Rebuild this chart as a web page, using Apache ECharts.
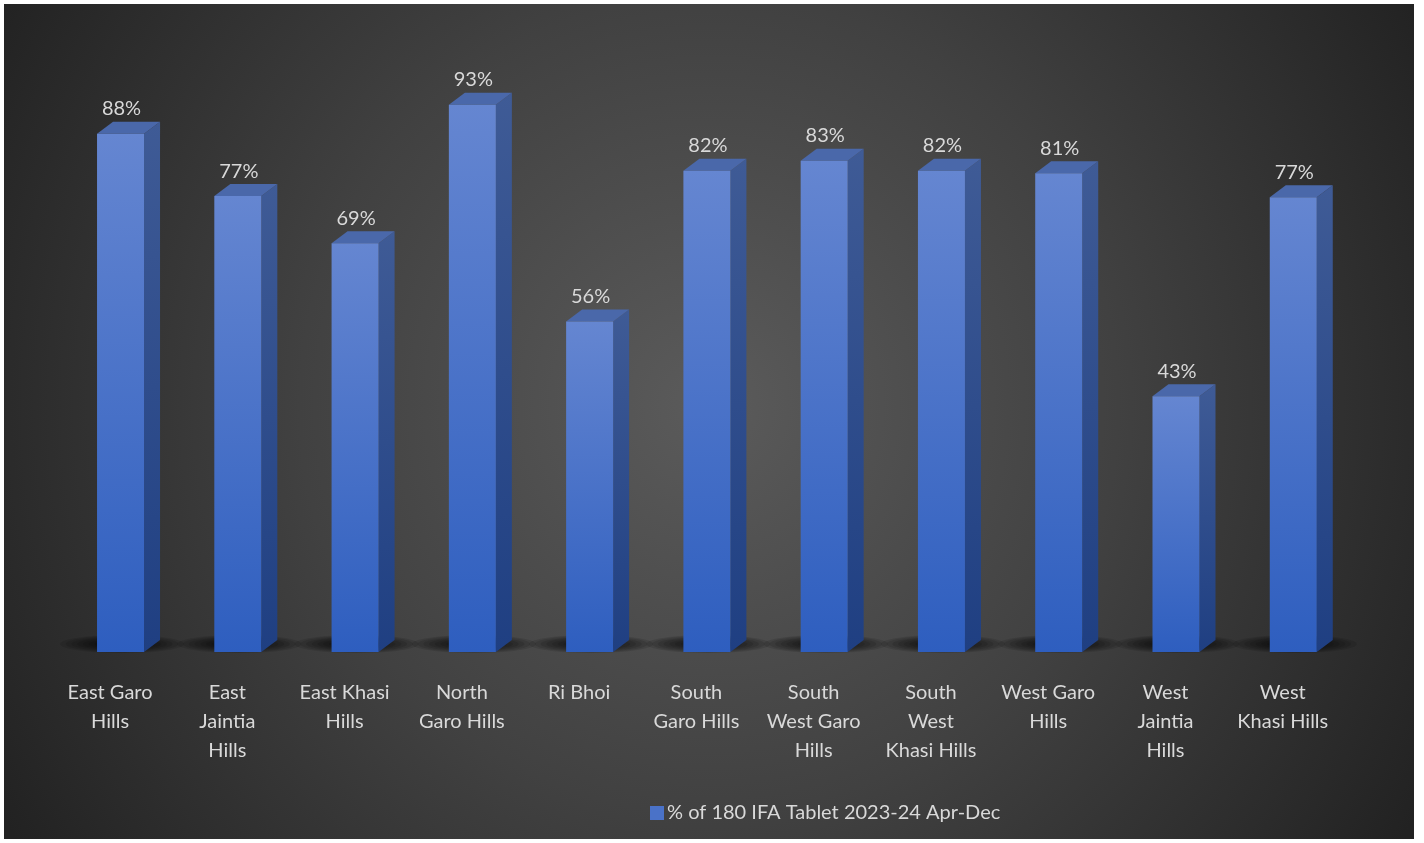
<!DOCTYPE html>
<html>
<head>
<meta charset="utf-8">
<script src="https://cdn.jsdelivr.net/npm/echarts@6/dist/echarts.min.js"></script>
<style>
html,body{margin:0;padding:0;background:#ffffff;width:1424px;height:843px;overflow:hidden;}
#chart{position:absolute;left:4px;top:4px;width:1410px;height:835px;}
</style>
</head>
<body>
<div id="chart"></div>
<script>
const categories = ["East Garo\nHills", "East\nJaintia\nHills", "East Khasi\nHills", "North\nGaro Hills", "Ri Bhoi", "South\nGaro Hills", "South\nWest Garo\nHills", "South\nWest\nKhasi Hills", "West Garo\nHills", "West\nJaintia\nHills", "West\nKhasi Hills"];
const values = [88.0, 77.4, 69.4, 92.9, 56.1, 81.7, 83.4, 81.7, 81.3, 43.4, 77.2];
const seriesName = "% of 180 IFA Tablet 2023-24 Apr-Dec";

const chart = echarts.init(document.getElementById('chart'));
const FONT = 'Lato';

function renderItem(params, api) {
  const i = api.value(0);
  const v = api.value(1);
  const top = api.coord([i, v]);
  const base = api.coord([i, 0]);
  const cx = top[0];
  const x0 = cx - 13, x1 = cx + 34;
  const dx = 16, dy = 12;
  const yt = top[1], yb = base[1];
  const children = [];
  // soft floor shadow made from stacked translucent ellipses
  const steps = 8;
  for (let k = 0; k < steps; k++) {
    const t = k / (steps - 1);
    children.push({
      type: 'ellipse',
      silent: true,
      shape: { cx: cx + 12, cy: yb - 8, rx: 62 - 40 * t, ry: 9 - 6 * t },
      style: { fill: 'rgba(0,0,0,0.11)' }
    });
  }
  children.push(
    {
      type: 'polygon',
      shape: { points: [[x1, yt], [x1 + dx, yt - dy], [x1 + dx, yb - dy], [x1, yb]] },
      style: {
        fill: new echarts.graphic.LinearGradient(0, 0, 0, 1, [
          { offset: 0, color: '#3f5b96' },
          { offset: 1, color: '#1f3f82' }
        ])
      }
    },
    {
      type: 'polygon',
      shape: { points: [[x0, yt], [x0 + dx, yt - dy], [x1 + dx, yt - dy], [x1, yt]] },
      style: { fill: '#4a68aa' }
    },
    {
      type: 'rect',
      shape: { x: x0, y: yt, width: x1 - x0, height: yb - yt },
      style: {
        fill: new echarts.graphic.LinearGradient(0, 0, 0, 1, [
          { offset: 0, color: '#6586d1' },
          { offset: 1, color: '#2e5ebf' }
        ])
      }
    },
    {
      type: 'text',
      style: {
        text: Math.round(v) + '%',
        x: (x0 + x1) / 2 + 1,
        y: yt - 25,
        align: 'center',
        verticalAlign: 'middle',
        fill: '#d9d9d9',
        font: '20px ' + FONT
      }
    }
  );
  return { type: 'group', children: children };
}

chart.setOption({
  backgroundColor: {
    type: 'radial', x: 0.5, y: 0.48, r: 0.98,
    colorStops: [
      { offset: 0, color: '#5b5b5b' },
      { offset: 0.5, color: '#414141' },
      { offset: 1, color: '#222222' }
    ]
  },
  textStyle: { fontFamily: FONT },
  legend: {
    data: [{ name: seriesName, icon: 'rect', itemStyle: { color: '#4a72c8' } }],
    left: 641,
    top: 794,
    itemWidth: 14,
    itemHeight: 14,
    itemGap: 5,
    textStyle: { color: '#d9d9d9', fontSize: 20, fontFamily: FONT, lineHeight: 20, padding: [0, 0, 0, -2] }
  },
  grid: { left: 47.4, width: 1290, top: 59, bottom: 187, containLabel: false },
  xAxis: {
    type: 'category',
    data: categories,
    axisLine: { show: false },
    axisTick: { show: false },
    splitLine: { show: false },
    axisLabel: { color: '#d9d9d9', fontSize: 20, lineHeight: 29, margin: 26, interval: 0, fontFamily: FONT }
  },
  yAxis: {
    type: 'value', min: 0, max: 100, show: false,
    splitLine: { show: false }
  },
  series: [{
    name: seriesName,
    type: 'custom',
    renderItem: renderItem,
    itemStyle: { color: '#4a72c8' },
    encode: { x: 0, y: 1 },
    data: values.map((v, i) => [i, v])
  }]
});
</script>
</body>
</html>
